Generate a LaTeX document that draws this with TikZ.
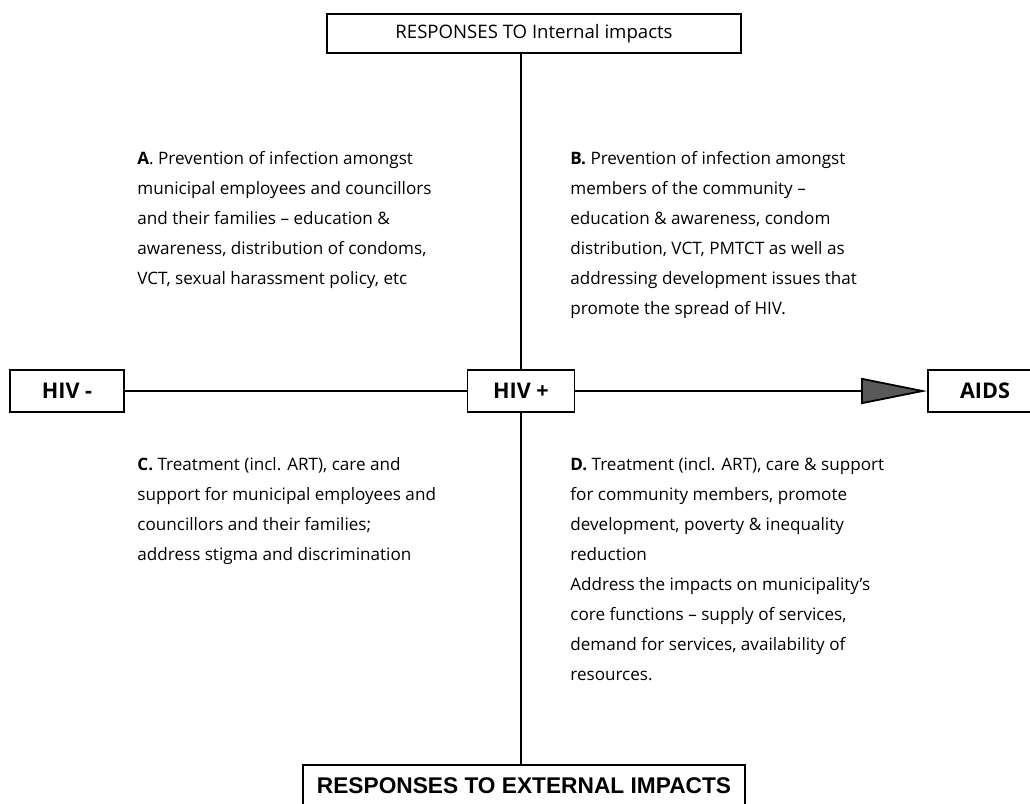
\documentclass[tikz,border=0pt]{standalone}
\usepackage{fontspec}
\setmainfont{Open Sans}
\newfontfamily\arialfont{Liberation Sans}
\usetikzlibrary{arrows.meta,positioning}

\begin{document}
\begin{tikzpicture}
    [
        x=0.5pt, y=-0.5pt,
        StageBox/.style={rectangle,minimum width=57pt,minimum height=21pt,draw,line width=0.9pt,align=center,font=\fontsize{10.8}{12}\selectfont\bfseries},
        TitleBox1/.style={rectangle,minimum width=207pt,minimum height=19.5pt,draw,line width=0.9pt,align=center,font=\fontsize{9.3}{11}\selectfont},
        TitleBox2/.style={rectangle,minimum width=221pt,minimum height=21pt,draw,line width=0.9pt,align=center,font=\arialfont\fontsize{11.35}{13}\selectfont\bfseries},
        QuadrantText/.style={anchor=north west,inner sep=0pt,align=left,font=\fontsize{8.55}{15}\selectfont}
    ]

    \useasboundingbox (0,0) rectangle (1030,804);
    \fill[white] (0,0) rectangle (1030,804);

    \node[TitleBox1] (responses_internal) at (534,33.5) {RESPONSES TO Internal impacts};
    \node[TitleBox2] (responses_external) at (524,786) {RESPONSES TO EXTERNAL IMPACTS};

    \node[StageBox] (hiv_negative) at (67,391) {HIV -};
    \node[StageBox,minimum width=53.5pt] (hiv_positive) at (521,391) {HIV +};
    \node[StageBox] (aids) at (985,391) {AIDS};

    \node[QuadrantText] (quadrant_A) at (137,151) {\textbf{A}. Prevention of infection amongst\\
        municipal employees and councillors\\
        and their families -- education \&\\
        awareness, distribution of condoms,\\
        VCT, sexual harassment policy, etc};
    \node[QuadrantText] (quadrant_B) at (570,151) {\textbf{B.} Prevention of infection amongst\\
        members of the community --\\
        education \& awareness, condom\\
        distribution, VCT, PMTCT as well as\\
        addressing development issues that\\
        promote the spread of HIV.};
    \node[QuadrantText] (quadrant_C) at (137,457) {\textbf{C.} Treatment (incl. ART), care and\\
        support for municipal employees and\\
        councillors and their families;\\
        address stigma and discrimination};
    \node[QuadrantText] (quadrant_D) at (570,457) {\textbf{D.} Treatment (incl. ART), care \& support\\
        for community members, promote\\
        development, poverty \& inequality\\
        reduction\\
        Address the impacts on municipality's\\
        core functions -- supply of services,\\
        demand for services, availability of\\
        resources.};

    \draw[line width=0.9pt] (hiv_positive.north) -- (hiv_positive.north |- responses_internal.south);
    \draw[line width=0.9pt] (hiv_positive.south) -- (hiv_positive.south |- responses_external.north);
    \draw[line width=0.9pt] (hiv_negative) -- (hiv_positive);
    \draw[line width=0.9pt, -{Triangle[length=33pt,width=13pt,fill=black!65]}] (hiv_positive) -- (aids);
\end{tikzpicture}
\end{document}
